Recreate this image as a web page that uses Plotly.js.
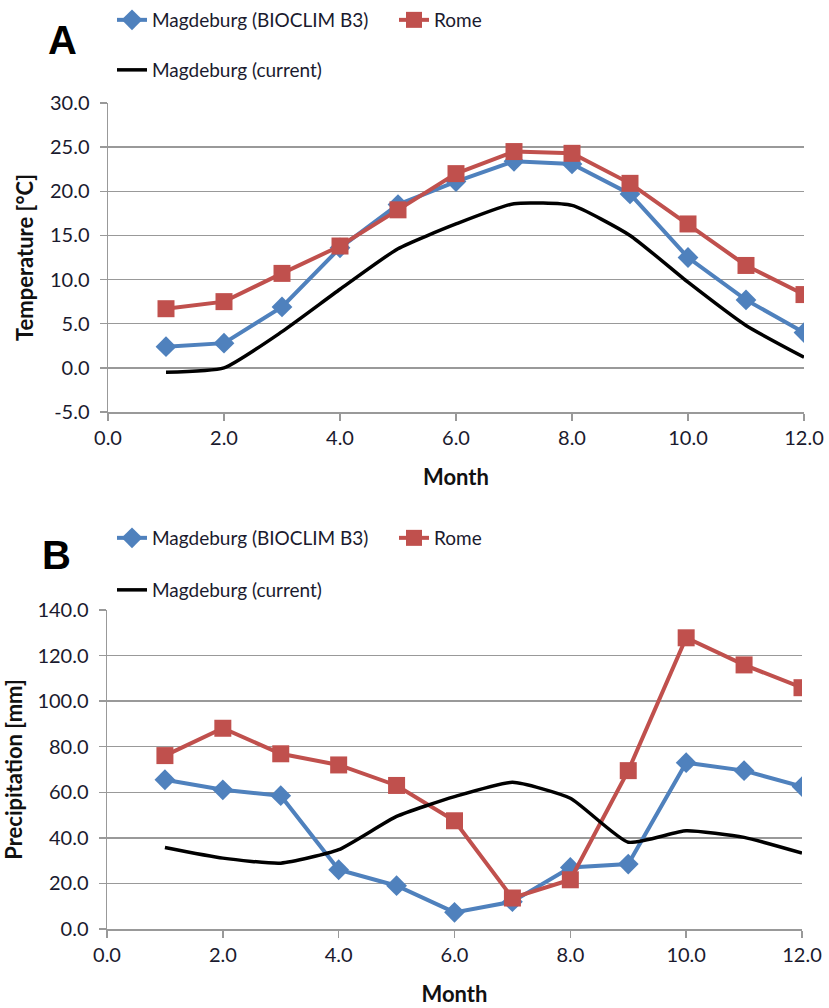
<!DOCTYPE html>
<html>
<head>
<meta charset="utf-8">
<script src="https://cdn.plot.ly/plotly-3.0.1.min.js"></script>
<style>html,body{margin:0;padding:0;background:#fff;}#chart{width:829px;height:1008px;}</style>
</head>
<body>
<div id="chart"></div>
<script>
// ---- data ----
const months = [1,2,3,4,5,6,7,8,9,10,11,12];
const seriesNames = ["Magdeburg (BIOCLIM B3)", "Rome", "Magdeburg (current)"];
// Panel A: temperature [°C]
const tempBioclim = [2.4, 2.8, 6.9, 13.6, 18.5, 21.1, 23.4, 23.1, 19.7, 12.5, 7.7, 4.0];
const tempRome    = [6.7, 7.5, 10.7, 13.8, 17.9, 22.0, 24.5, 24.3, 20.9, 16.3, 11.6, 8.3];
const tempCurrent = [-0.5, 0.0, 4.1, 8.9, 13.5, 16.3, 18.6, 18.4, 15.0, 9.7, 4.8, 1.2];
// Panel B: precipitation [mm]
const precBioclim = [65.5, 61.1, 58.5, 26.0, 19.0, 7.3, 12.0, 27.0, 28.5, 73.0, 69.5, 62.5];
const precRome    = [76.1, 88.1, 76.9, 72.0, 63.0, 47.5, 13.6, 21.6, 69.5, 127.8, 115.9, 105.9];
const precCurrent = [35.8, 31.1, 28.9, 34.8, 49.4, 58.1, 64.4, 57.4, 38.1, 43.1, 40.2, 33.3];
const xTicks = [0, 2, 4, 6, 8, 10, 12];
const tempTicks = [-5, 0, 5, 10, 15, 20, 25, 30];
const precTicks = [0, 20, 40, 60, 80, 100, 120, 140];

// ---- styling ----
const BLUE = "#4F81BD", RED = "#C0504D", BLACK = "#000000";
const FONT = "Lato, 'Open Sans', sans-serif";
const W = 829, H = 1008;
const px = v => v / W, py = v => 1 - v / H;
const fmt = v => v.toFixed(1);

function mk(x, y, name, color, sym, msize, xa, ya, leg, smooth) {
  const t = {x: x, y: y, name: name, type: "scatter", xaxis: xa, yaxis: ya, legend: leg,
    line: {color: color, width: 4}, showlegend: true};
  if (sym) { t.mode = "lines+markers"; t.marker = {symbol: sym, size: msize, color: color}; }
  else { t.mode = "lines"; t.line.width = 3.5; if (smooth) { t.line.shape = "spline"; t.line.smoothing = 0.5; } }
  return t;
}

const data = [
  mk(months, tempBioclim, seriesNames[0], BLUE, "diamond", 16, "x", "y", "legend"),
  mk(months, tempRome, seriesNames[1], RED, "square", 17, "x", "y", "legend"),
  mk(months, tempCurrent, seriesNames[2], BLACK, null, 0, "x", "y", "legend2", true),
  mk(months, precBioclim, seriesNames[0], BLUE, "diamond", 16, "x2", "y2", "legend3"),
  mk(months, precRome, seriesNames[1], RED, "square", 17, "x2", "y2", "legend3"),
  mk(months, precCurrent, seriesNames[2], BLACK, null, 0, "x2", "y2", "legend4", true)
];

const tickFont = {family: FONT, size: 20, color: "#1a1a2e"};
const titleFont = {family: FONT, size: 22, color: "#111", weight: "bold"};
function xax(dom, anchor, standoff) {
  return {domain: dom, anchor: anchor, range: [0, 12], tickvals: xTicks, ticktext: xTicks.map(fmt),
    showgrid: false, zeroline: false, showline: true, linecolor: "#999", linewidth: 1.5,
    ticks: "outside", ticklen: 7, tickcolor: "#999", tickwidth: 1.5, tickfont: tickFont,
    title: {text: "Month", font: titleFont, standoff: standoff}, fixedrange: true};
}
function yax(dom, anchor, range, ticks, title) {
  return {domain: dom, anchor: anchor, range: range, tickvals: ticks, ticktext: ticks.map(fmt),
    showgrid: true, gridcolor: "#999", gridwidth: 1.5, zeroline: false,
    showline: true, linecolor: "#999", linewidth: 1.5,
    ticks: "outside", ticklen: 7, tickcolor: "#999", tickwidth: 1.5, tickfont: tickFont,
    ticklabelstandoff: 6,
    title: {text: title, font: titleFont, standoff: 10}, fixedrange: true};
}
function leg(x, y) {
  return {orientation: "h", x: x, y: y, xanchor: "left", yanchor: "middle",
    font: {family: FONT, size: 19, color: "#1a1a2e"}, bgcolor: "rgba(0,0,0,0)",
    entrywidth: 237, entrywidthmode: "pixels", traceorder: "normal"};
}

const layout = {
  width: W, height: H, margin: {l: 0, r: 0, t: 0, b: 0},
  paper_bgcolor: "#fff", plot_bgcolor: "#fff", font: {family: FONT},
  xaxis: xax([px(108), px(804)], "y", 22),
  yaxis: yax([py(412), py(103)], "x", [-5, 30], tempTicks, "Temperature [°C]"),
  xaxis2: xax([px(107), px(802)], "y2", 22),
  yaxis2: yax([py(929), py(610)], "x2", [0, 140], precTicks, "Precipitation [mm]"),
  legend: leg(px(112), py(20)),
  legend2: leg(px(112), py(70)),
  legend3: leg(px(112), py(538)),
  legend4: leg(px(112), py(590)),
  annotations: [
    {text: "A", x: px(63), y: py(40), xref: "paper", yref: "paper", xanchor: "center", yanchor: "middle", showarrow: false,
     font: {family: "Liberation Sans, Arial, sans-serif", size: 40, color: "#000", weight: "bold"}},
    {text: "B", x: px(56), y: py(555), xref: "paper", yref: "paper", xanchor: "center", yanchor: "middle", showarrow: false,
     font: {family: "Liberation Sans, Arial, sans-serif", size: 40, color: "#000", weight: "bold"}}
  ],
  showlegend: true
};
Plotly.newPlot("chart", data, layout, {displayModeBar: false, staticPlot: true});
</script>
</body>
</html>
